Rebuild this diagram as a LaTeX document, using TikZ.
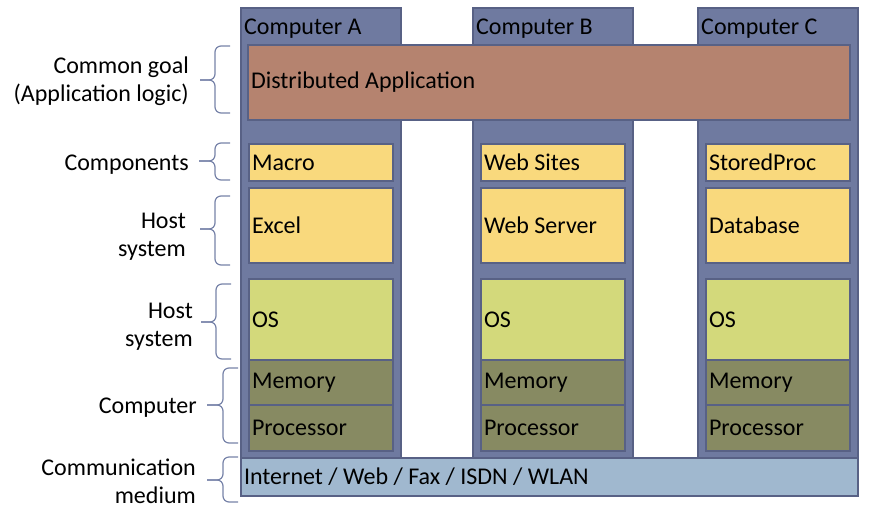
\documentclass[tikz,border=0pt]{standalone}
\usepackage{fontspec}
\setmainfont{Carlito}
\usetikzlibrary{positioning, calc}
\definecolor{colblue}{RGB}{111, 122, 160}
\definecolor{edgeblue}{RGB}{88, 97, 133}
\definecolor{appbrown}{RGB}{181, 131, 111}
\definecolor{swyellow}{RGB}{249, 217, 125}
\definecolor{oslime}{RGB}{211, 217, 123}
\definecolor{hwolive}{RGB}{135, 138, 98}
\definecolor{netblue}{RGB}{160, 184, 207}
\definecolor{braceblue}{RGB}{118, 130, 168}

\begin{document}
\begin{tikzpicture}[x=1pt, y=-1pt, font=\fontsize{24}{28}\selectfont]
        \useasboundingbox (0, 0) rectangle (875, 509);

        \tikzstyle{col} = [draw=edgeblue, fill=colblue, line width=2pt, inner sep=0pt,
            minimum width=160pt, minimum height=450pt, anchor=north west];
        \tikzstyle{title} = [anchor=north west, inner xsep=4pt, inner ysep=12pt];
        \tikzstyle{box} = [draw=edgeblue, line width=2pt, inner xsep=3pt, inner ysep=0pt,
            text width=138pt, align=flush left];
        \tikzstyle{lab} = [anchor=east, align=right, inner sep=0pt];
        \tikzstyle{br} = [draw=braceblue, line width=1.2pt, rounded corners=6pt];

        % the three computers
        \foreach \c/\x in {A/240, B/472, C/697}{
            \node [col] (C\c) at (\x, 7) { };
            \node [title] (C\c t) at (C\c.north west) {Computer \c};
        }

        % communication medium
        \node [box, fill=netblue, text width=611pt, minimum height=38pt, anchor=north west]
            (net) at (240, 457) {Internet / Web / Fax / ISDN / WLAN};

        % distributed application on top of all three
        \node [box, fill=appbrown, text width=596pt, minimum height=75pt, anchor=north west]
            (app) at (247, 44) {Distributed Application};

        % layers of each computer
        \foreach \c/\comp/\host in {A/Macro/Excel, B/Web Sites/Web Server, C/StoredProc/Database}{
            \node [box, fill=swyellow, minimum height=37pt, anchor=north west]
                (C\c 1) at ($(C\c.north west) + (8, 136)$) {\comp};
            \node [box, fill=swyellow, minimum height=75pt, below=5pt of C\c 1] (C\c 2) {\host};
            \node [box, fill=oslime, minimum height=81pt, below=14pt of C\c 2] (C\c 3) {OS};
            \node [box, fill=hwolive, minimum height=45pt, below=-2pt of C\c 3] (C\c 4) {Memory};
            \node [box, fill=hwolive, minimum height=46pt, below=-2pt of C\c 4] (C\c 5) {Processor};
        }

        % braces and their labels
        \foreach \n/\t/\b/\m/\tx/\ex/\lx/\ly/\txt in {
                goal/46/113/80/200/230/189/81/{Common goal\\(Application logic)},
                comp/143/180/161/199/230/189/165/{Components},
                hsw/196/265/229/200/230/186/237/{Host\\system},
                hos/284/359/322/201/231/193/327/{Host\\system},
                hw/368/443/405/207/238/197/408/{Computer},
                cm/457/502/480/207/238/196/481/{Communication\\medium}}{
            \coordinate (\n t) at (\ex, \t);
            \coordinate (\n b) at (\ex, \b);
            \coordinate (\n m) at (\tx, \m);
            \draw [br] (\n t) -- ++(-15, 0) |- (\n m);
            \draw [br] (\n m) -| ($(\n b) + (-15, 0)$) -- (\n b);
            \node [lab] (\n) at (\lx, \ly) {\txt};
        }
    \end{tikzpicture}
\end{document}
